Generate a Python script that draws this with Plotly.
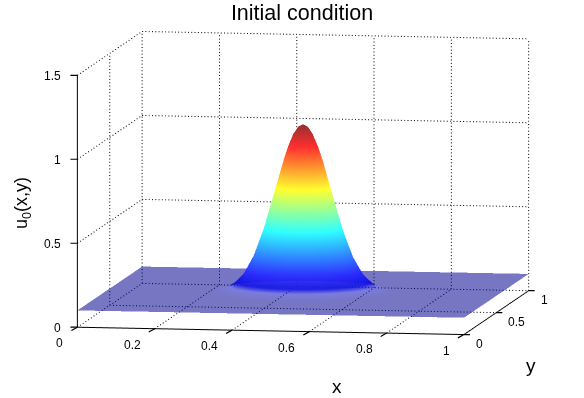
import numpy as np
import plotly.graph_objects as go

# offsets from the bump centre (0.5, 0.5), both directions
offsets = [0, 0.0125, 0.025, 0.0375, 0.05, 0.075, 0.1, 0.125, 0.15, 0.175, 0.2, 0.225, 0.25, 0.5]
# one quadrant of u0 (the bump is symmetric)
u_quarter = [
    [1.100, 1.085, 1.042, .973, .886, .681, .481, .322, .214, .152, .121, .108, .102, .100],
    [1.085, 1.070, 1.027, .960, .874, .673, .475, .318, .212, .151, .121, .107, .102, .100],
    [1.042, 1.027, .987, .922, .840, .647, .459, .309, .208, .149, .120, .107, .102, .100],
    [.973, .960, .922, .862, .786, .608, .433, .293, .200, .146, .118, .107, .102, .100],
    [.886, .874, .840, .786, .717, .557, .400, .274, .190, .141, .117, .106, .102, .100],
    [.681, .673, .647, .608, .557, .438, .322, .229, .166, .130, .112, .104, .101, .100],
    [.481, .475, .459, .433, .400, .322, .245, .184, .144, .120, .108, .103, .101, .100],
    [.322, .318, .309, .293, .274, .229, .184, .149, .125, .112, .105, .102, .101, .100],
    [.214, .212, .208, .200, .190, .166, .144, .125, .113, .106, .102, .101, .100, .100],
    [.152, .151, .149, .146, .141, .130, .120, .112, .106, .103, .101, .100, .100, .100],
    [.121, .121, .120, .118, .117, .112, .108, .105, .102, .101, .100, .100, .100, .100],
    [.108, .107, .107, .107, .106, .104, .103, .102, .101, .100, .100, .100, .100, .100],
    [.102, .102, .102, .102, .102, .101, .101, .101, .100, .100, .100, .100, .100, .100],
    [.100, .100, .100, .100, .100, .100, .100, .100, .100, .100, .100, .100, .100, .100],
]
x_ticks = [0, 0.2, 0.4, 0.6, 0.8, 1]
y_ticks = [0, 0.5, 1]
z_ticks = [0, 0.5, 1, 1.5]

# jet, washed out a little the way the translucent reference looks
jet = [[0, 'rgb(0,0,143)'], [0.05, 'rgb(15,15,220)'], [0.125, 'rgb(46,46,255)'],
       [0.375, 'rgb(46,255,255)'], [0.625, 'rgb(255,255,46)'], [0.875, 'rgb(255,46,46)'],
       [1, 'rgb(150,46,46)']]

off = np.array(offsets)
x = np.concatenate([0.5 - off[:0:-1], 0.5 + off])
q = np.array(u_quarter)
u = np.block([[q[:0:-1, :0:-1], q[:0:-1, :]], [q[:, :0:-1], q]])

surf = go.Surface(x=x, y=x, z=u, colorscale=jet, cmin=0.1, cmax=1.1, showscale=False,
                  opacityscale=[[0, 0.54], [0.035, 0.54], [0.06, 0.95], [1, 0.95]],
                  lighting=dict(ambient=1, diffuse=0, specular=0, fresnel=0, roughness=1),
                  hoverinfo='skip')

# dotted grid on the three back walls, drawn as short separate dashes
gx, gy, gz = [], [], []
def seg(a, b, n):
    for s in np.linspace(0, 1, n, endpoint=False):
        e = s + 0.3 / n
        gx.extend([a[0] + (b[0] - a[0]) * s, a[0] + (b[0] - a[0]) * e, None])
        gy.extend([a[1] + (b[1] - a[1]) * s, a[1] + (b[1] - a[1]) * e, None])
        gz.extend([a[2] + (b[2] - a[2]) * s, a[2] + (b[2] - a[2]) * e, None])
for t in x_ticks[1:]:
    seg((t, 0, 0), (t, 1, 0), 24)
    seg((t, 1, 0), (t, 1, 1.5), 76)
for t in y_ticks[1:]:
    seg((0, t, 0), (1, t, 0), 118)
    seg((0, t, 0), (0, t, 1.5), 76)
for t in z_ticks[1:]:
    seg((0, 0, t), (0, 1, t), 24)
    seg((0, 1, t), (1, 1, t), 118)
seg((0, 0, 0), (0, 1, 0), 24)
grid = go.Scatter3d(x=gx, y=gy, z=gz, mode='lines', showlegend=False, hoverinfo='skip',
                    line=dict(color='black', width=2))

axis = dict(showgrid=False, showbackground=False, zeroline=False, showspikes=False,
            showline=True, linecolor='black', linewidth=2, ticks='', title=dict(text=''),
            showticklabels=False)

tick_font = dict(family='Liberation Sans', size=12, color='black')
label_font = dict(family='Liberation Sans', size=19, color='black')

# tick marks and tick labels sit at the data position of each tick
notes = []
def tick(px, py, pz, text, ax, ay, anchor, sx, sy):
    notes.append(dict(x=px, y=py, z=pz, text=' ', showarrow=True, arrowhead=0, arrowwidth=1.2,
                      arrowcolor='black', ax=ax, ay=ay, standoff=0))
    notes.append(dict(x=px, y=py, z=pz, text=text, showarrow=False, font=tick_font,
                      xanchor=anchor, yanchor='middle', xshift=sx, yshift=sy))
for t in x_ticks:
    tick(t, 0, 0, f'{t:g}', -9, 5, 'right', -12, -16)
for t in y_ticks:
    tick(1, t, 0, f'{t:g}', 9, 0, 'left', 10, -9)
for t in z_ticks:
    tick(0, 0, t, f'{t:g}', -10, 0, 'right', -14, -1)

fig = go.Figure([surf, grid])
fig.update_layout(
    width=584, height=398, paper_bgcolor='white', margin=dict(l=0, r=0, t=0, b=0),
    title=dict(text='Initial condition', x=302/584, xanchor='center', y=1-12/398, yanchor='middle',
               font=dict(family='Liberation Sans', size=21.5, color='black')),
    scene=dict(
        domain=dict(x=[0.036, 1], y=[0.0754, 1]),
        aspectmode='manual', aspectratio=dict(x=2.13, y=2.13, z=1.378),
        camera=dict(projection=dict(type='orthographic'),
                    eye=dict(x=0.327, y=-1.97, z=0.2225), up=dict(x=0, y=0, z=1),
                    center=dict(x=-0.003, y=0, z=-0.0055)),
        xaxis=dict(axis, range=[0, 1], tickvals=x_ticks),
        yaxis=dict(axis, range=[0, 1], tickvals=y_ticks),
        zaxis=dict(axis, range=[0, 1.5], tickvals=z_ticks),
        annotations=notes,
    ),
    annotations=[
        dict(text='x', x=337/584, y=1-386/398, xref='paper', yref='paper', showarrow=False,
             xanchor='center', yanchor='middle', font=label_font),
        dict(text='y', x=531/584, y=1-365/398, xref='paper', yref='paper', showarrow=False,
             xanchor='center', yanchor='middle', font=label_font),
        dict(text='u<sub>0</sub>(x,y)', x=22/584, y=1-203/398, xref='paper', yref='paper',
             showarrow=False, textangle=-90, xanchor='center', yanchor='middle',
             font=dict(family='Liberation Sans', size=18, color='black')),
    ],
)
# the page's default body margin would otherwise shift and clip the figure
fig.write_html("out.html", config=dict(displayModeBar=False),
               post_script="document.body.style.margin='0';")
